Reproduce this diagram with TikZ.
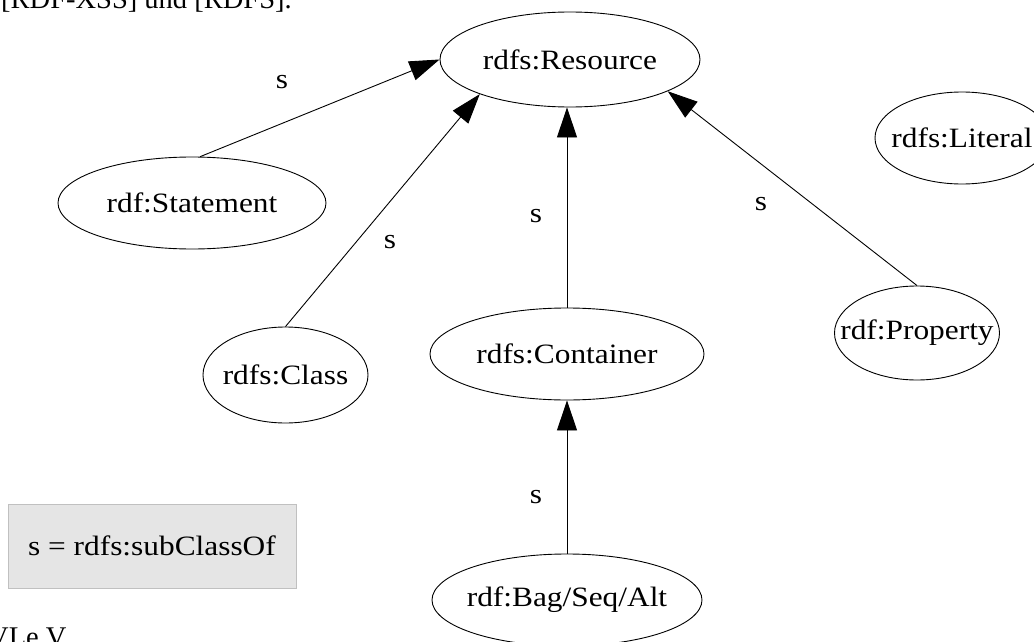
\documentclass[tikz,border=0pt]{standalone}
\usepackage{fontspec}
\setmainfont[FakeStretch=1.12]{Liberation Serif}
\newfontfamily\pagefont{Liberation Serif}
\usetikzlibrary{shapes.geometric,arrows.meta}
\newcommand{\zb}[1]{\makebox[0pt][c]{#1}}
\begin{document}
\begin{tikzpicture}[x=1pt,y=-1pt,
  every node/.style={font=\fontsize{28}{30}\selectfont},
  ell/.style={draw,ellipse,line width=0.9pt,inner sep=0pt},
  arr/.style={line width=0.9pt,-{Triangle[length=30pt,width=20pt]}},
  lbl/.style={inner sep=0pt},
  pagetext/.style={inner sep=0pt,anchor=base west,font=\pagefont\fontsize{28.5}{30}\selectfont}]
\useasboundingbox (0,0) rectangle (1034,642);
\clip (0,0) rectangle (1034,642);
% nodes
\node[ell,minimum width=260pt,minimum height=95pt] (res) at (570,59.5) {\zb{rdfs:Resource}};
\node[ell,minimum width=174pt,minimum height=92pt] (lit) at (962,138) {\zb{rdfs:Literal}};
\node[ell,minimum width=268pt,minimum height=92pt] (st) at (192,203) {\zb{rdf:Statement}};
\node[ell,minimum width=165pt,minimum height=96pt] (cls) at (285.5,375) {\zb{rdfs:Class}};
\node[ell,minimum width=274pt,minimum height=92pt] (cont) at (567,354) {\zb{rdfs:Container}};
\node[ell,minimum width=165pt,minimum height=94pt] (prop) at (917,333) {\zb{rdf:Property}};
\node[ell,minimum width=270pt,minimum height=92pt] (bag) at (567,600) {\zb{rdf:Bag/Seq/Alt}};
% legend
\node[draw={rgb,255:red,192;green,192;blue,192},fill={rgb,255:red,229;green,229;blue,229},
  line width=0.9pt,minimum width=288pt,minimum height=84pt,inner sep=0pt] (leg) at (152,546) {\zb{s = rdfs:subClassOf}};
% edges
\draw[arr] (st.80) -- (res.180);
\draw[arr] (cls.90) -- (res.201);
\draw[arr] (cont.90) -- (cont.90 |- res.south);
\draw[arr] (prop.90) -- (res.342.5);
\draw[arr] (bag.90) -- (cont.south);
% labels
\node[lbl] (l1) at (282,82) {s};
\node[lbl] (l2) at (390,242) {s};
\node[lbl] (l3) at (536,216) {s};
\node[lbl] (l4) at (761,204) {s};
\node[lbl] (l5) at (536,497) {s};
% cropped page texts
\node[pagetext] (top) at (1,9) {[RDF-XSS] und [RDFS].};
\node[pagetext] (bot) at (-12,646) {VLe.V};
\end{tikzpicture}
\end{document}
